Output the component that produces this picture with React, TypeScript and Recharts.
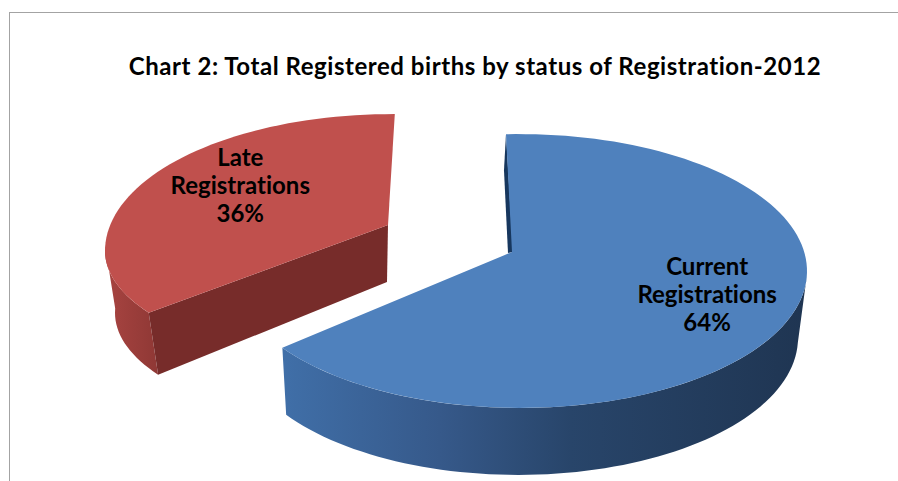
import React from "react";
import { PieChart, Pie, Cell } from "recharts";

const categories = ["Current Registrations", "Late Registrations"];
const shares = [64, 36];
const labelLines = [
  ["Current", "Registrations"],
  ["Late", "Registrations"],
];
const topColors = ["#4f81bd", "#c0504d"];
const chartTitle = "Chart 2: Total Registered births by status of Registration-2012";

const data = categories.map((name, i) => ({ name, value: shares[i] }));

// fake 3D: each slice gets pulled out of the shared centre and squashed flat
const SQUASH = 0.477;
const slices = [
  {
    dx: 64, dy: 10, // explode
    apexX: -8, apexY: -19, // perspective moves the tip off the ellipse centre
    rotate: -2.8, stretch: 1.036, lowerRy: 1,
    wallX: -2, wallRx: -7, wallY: 67, wallFrom: 92,
    labelK: 0.76, labelY: -4,
  },
  {
    dx: -64, dy: -10,
    apexX: -4, apexY: -26,
    rotate: 20, stretch: 0.946, lowerRy: 0.85,
    wallX: 6, wallRx: -4, wallY: 62, wallFrom: 272,
    labelK: 0.59, labelY: 0,
  },
];

const rad = (d: number) => (d * Math.PI) / 180;

const ring = (cx: number, cy: number, rx: number, ry: number, lower: number, from: number, to: number) => {
  const pts: string[] = [];
  const n = Math.max(2, Math.ceil(Math.abs(to - from) / 2));
  for (let i = 0; i <= n; i++) {
    const t = from + ((to - from) * i) / n;
    const c = Math.cos(rad(t));
    pts.push(`${cx + rx * Math.sin(rad(t))},${cy - ry * c * (c < 0 ? lower : 1)}`);
  }
  return pts;
};

const Slice3D = (props: any) => {
  const { cx, cy, outerRadius, startAngle, endAngle, fill, name } = props;
  const idx = categories.indexOf(name);
  const s = slices[idx];
  const ex = cx + s.dx;
  const ey = cy + s.dy;
  const rx = outerRadius;
  const ry = outerRadius * SQUASH;
  const t0 = (90 - startAngle) * s.stretch + s.rotate;
  const t1 = (90 - endAngle) * s.stretch + s.rotate;
  const ax = ex + s.apexX;
  const ay = ey + s.apexY;
  const top = ring(ex, ey, rx, ry, s.lowerRy, t0, t1);
  const faceD = `M${ax},${ay} L${top.join(" L")} Z`;

  const wx = ex + s.wallX;
  const wy = ey + s.wallY;
  const wrx = rx + s.wallRx;
  const wallTo = idx === 0 ? t1 : t0;
  const wallBottom = ring(wx, wy, wrx, ry, s.lowerRy, s.wallFrom, wallTo);
  const wallTop = ring(ex, ey, rx, ry, s.lowerRy, wallTo, s.wallFrom);
  const wallD = `M${wallBottom.join(" L")} L${wallTop.join(" L")} Z`;

  if (idx === 0) {
    const [cxTop, cyTop] = top[0].split(",").map(Number);
    const sliver = `M${cxTop},${cyTop} L${ax + 1},${ay} L${ax - 4},${ay + 1} L${cxTop - 2},${cyTop + 36} Z`;
    return (
      <g>
        <path d={wallD} fill="url(#blueWall)" />
        <path d={sliver} fill="#17375e" />
        <path d={faceD} fill={fill} />
      </g>
    );
  }

  const [tipX, tipY] = top[0].split(",").map(Number);
  const [footX, footY] = wallBottom[wallBottom.length - 1].split(",").map(Number);
  const cutD = `M${ax},${ay} L${tipX},${tipY} L${footX},${footY} L${ax - 1},${ay + 57} Z`;
  return (
    <g>
      <path d={wallD} fill="url(#redWall)" />
      <path d={cutD} fill="#772c2a" />
      <path d={faceD} fill={fill} />
    </g>
  );
};

const textStyle = { fontVariantLigatures: "none" } as React.CSSProperties;

const renderLabel = (props: any) => {
  const { cx, cy, outerRadius, midAngle, index, percent } = props;
  const s = slices[index];
  const mid = (90 - midAngle) * s.stretch + s.rotate;
  const x = cx + s.dx + s.apexX + s.labelK * outerRadius * Math.sin(rad(mid));
  const y = cy + s.dy + s.apexY - s.labelK * outerRadius * SQUASH * Math.cos(rad(mid)) + s.labelY;
  const lines = [...labelLines[index], `${Math.round(percent * 100)}%`];
  return (
    <text
      x={x}
      y={y}
      textAnchor="middle"
      fontFamily="Lato"
      fontWeight={700}
      fontSize={24}
      fill="#000"
      style={textStyle}
    >
      {lines.map((line, i) => (
        <tspan key={line} x={x} y={y + (i - 1) * 28 + 8}>
          {line}
        </tspan>
      ))}
    </text>
  );
};

export default function App() {
  return (
    <div style={{ position: "absolute", left: 0, top: 0, width: 898, height: 481, background: "#fff" }}>
      <div
        style={{
          position: "absolute",
          left: 9,
          top: 12,
          right: 0,
          bottom: 0,
          borderTop: "1px solid #a3a3a3",
          borderLeft: "1px solid #a3a3a3",
        }}
      />
      <PieChart width={898} height={481} style={{ position: "absolute", left: 0, top: 0 }}>
        <defs>
          <linearGradient id="blueWall" x1="0" y1="0" x2="1" y2="0">
            <stop offset="0" stopColor="#406fa8" />
            <stop offset="0.3" stopColor="#36598a" />
            <stop offset="0.55" stopColor="#28456a" />
            <stop offset="1" stopColor="#1f3552" />
          </linearGradient>
          <linearGradient id="redWall" x1="0" y1="0" x2="1" y2="0">
            <stop offset="0" stopColor="#a84441" />
            <stop offset="1" stopColor="#8f3835" />
          </linearGradient>
        </defs>
        <text
          x={475}
          y={75}
          textAnchor="middle"
          fontFamily="Lato"
          fontWeight={700}
          fontSize={24}
          letterSpacing={0.55}
          fill="#000"
          style={textStyle}
        >
          {chartTitle}
        </text>
        <Pie
          data={data}
          dataKey="value"
          nameKey="name"
          cx={451}
          cy={256}
          outerRadius={287}
          startAngle={90}
          endAngle={-270}
          stroke="none"
          isAnimationActive={false}
          shape={Slice3D}
          label={renderLabel}
          labelLine={false}
        >
          {data.map((d, i) => (
            <Cell key={d.name} fill={topColors[i]} />
          ))}
        </Pie>
      </PieChart>
    </div>
  );
}
